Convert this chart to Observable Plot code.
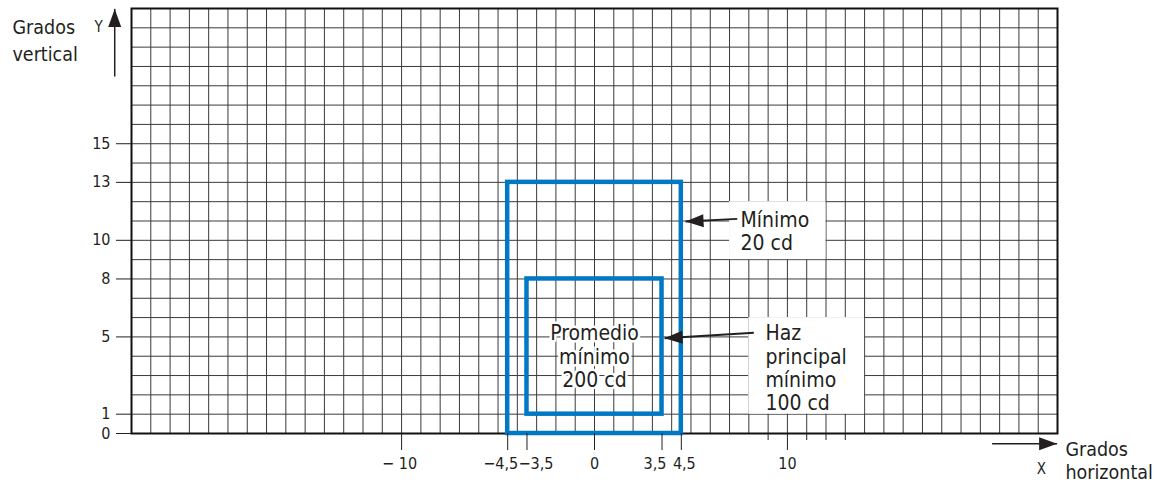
<!DOCTYPE html>
<html><head><meta charset="utf-8">
<script src="https://cdn.jsdelivr.net/npm/d3@7"></script>
<script src="https://cdn.jsdelivr.net/npm/@observablehq/plot@0.6"></script>
<style>body{margin:0;background:#fff}</style>
</head><body><div id="chart"></div>
<script>
// ---- data ----
const xGrid = d3.range(-24, 25);
const yGrid = d3.range(0, 23);
const xTicks = [-10, -4.5, -3.5, 0, 3.5, 4.5, 10];
const xTickLabels = ["− 10", "−4,5", "−3,5", "0", "3,5", "4,5", "10"];
const xMinorTicks = [9, 11, 12, 13];
const yTicks = [0, 1, 5, 8, 10, 13, 15];
const yTickLabels = ["0", "1", "5", "8", "10", "13", "15"];

// beam zones (degrees)
const zoneNames = ["Mínimo 20 cd", "Haz principal mínimo 100 cd"];
const zoneX1 = [-4.5, -3.5];
const zoneX2 = [4.5, 3.5];
const zoneY1 = [0, 1];
const zoneY2 = [13, 8];

// annotation boxes (degrees)
const boxX1 = [7, 8];
const boxX2 = [12, 14];
const boxY1 = [9, 1];
const boxY2 = [12, 6];

// annotation texts (degrees)
const noteTexts = ["Mínimo\n20 cd", "Haz\nprincipal\nmínimo\n100 cd", "Promedio\nmínimo\n200 cd"];
const noteX = [7.57, 8.86, 0];
const noteY = [11.54, 5.68, 5.68];

// pointer arrows (degrees): tail -> tip
const arrowX1 = [7.40, 8.26];
const arrowY1 = [11.11, 5.21];
const arrowX2 = [4.72, 3.63];
const arrowY2 = [10.97, 4.93];

// axis direction arrows (degrees)
const axisArrowX1 = [-24.87, 20.61];
const axisArrowY1 = [18.48, -0.53];
const axisArrowX2 = [-24.87, 23.98];
const axisArrowY2 = [21.98, -0.53];

// axis titles
const axisTitles = ["Grados\nvertical", "Grados\nhorizontal"];
const axisTitleX = [-30.17, 24.41];
const axisTitleY = [21.66, -0.3];
const axisLetters = ["Y", "X"];
const axisLetterX = [-25.71, 23.17];
const axisLetterY = [21.35, -1.55];

// ---- styles ----
const FONT = '"Liberation Sans Narrow","Arial Narrow","DejaVu Sans Condensed","DejaVu Sans",sans-serif';
const BLUE = "#0078c4";
const INK = "#231f20";
const GRID = "#3a3a3a";
const xLabelShift = [-2, -7, 9, 0, -7, 3, 0];
const titleLineHeights = [1.38, 1.2];

const zones = zoneNames.map((n, i) => ({n, x1: zoneX1[i], x2: zoneX2[i], y1: zoneY1[i], y2: zoneY2[i]}));
const boxes = boxX1.map((d, i) => ({x1: d, x2: boxX2[i], y1: boxY1[i], y2: boxY2[i]}));
const notes = noteTexts.map((t, i) => ({t, x: noteX[i], y: noteY[i]}));
const arrows = arrowX1.map((d, i) => ({x1: d, y1: arrowY1[i], x2: arrowX2[i], y2: arrowY2[i]}));
const axisArrows = axisArrowX1.map((d, i) => ({x1: d, y1: axisArrowY1[i], x2: axisArrowX2[i], y2: axisArrowY2[i]}));

// filled, elongated arrow head, tip at origin pointing left
const head = {draw(ctx) { ctx.moveTo(0, 0); ctx.lineTo(18, -6.5); ctx.lineTo(18, 6.5); ctx.closePath(); }};
const headAngles = [-3, -3.4];
const axisHeadAngles = [90, 180];

const xLabelMarks = xTicks.map((t, i) => Plot.text([t], {
  x: (d) => d, text: () => xTickLabels[i], frameAnchor: "bottom", lineAnchor: "top",
  dy: 24, dx: xLabelShift[i], fontSize: 16, fill: INK
}));

const titleMarks = axisTitles.map((t, i) => Plot.text([{t, x: axisTitleX[i], y: axisTitleY[i]}], {
  x: "x", y: "y", text: "t", fontSize: 19.5, lineHeight: titleLineHeights[i], lineAnchor: "top",
  textAnchor: "start", fill: INK
}));

const chart = Plot.plot({
  width: 1165, height: 486,
  marginLeft: 131, marginRight: 108, marginTop: 8, marginBottom: 53,
  x: {domain: [-24, 24], axis: null},
  y: {domain: [0, 22], axis: null},
  style: {fontFamily: FONT, color: INK, background: "white", overflow: "visible"},
  marks: [
    Plot.ruleX(xGrid, {stroke: GRID, strokeWidth: 1}),
    Plot.ruleY(yGrid, {stroke: GRID, strokeWidth: 1}),
    Plot.rect(boxes, {x1: "x1", x2: "x2", y1: "y1", y2: "y2", fill: "white"}),
    Plot.frame({stroke: "#111", strokeWidth: 2}),
    Plot.rect(zones, {x1: "x1", x2: "x2", y1: "y1", y2: "y2", fill: "none", stroke: BLUE, strokeWidth: 4.5}),
    Plot.axisX(xTicks, {tickSize: 17, stroke: INK, tickFormat: () => "", label: null}),
    Plot.axisX(xMinorTicks, {tickSize: 7, stroke: INK, tickFormat: () => "", label: null}),
    Plot.axisY(yTicks, {tickSize: 15, stroke: INK, tickFormat: () => "", label: null}),
    ...xLabelMarks,
    Plot.text(yTicks, {y: (d) => d, text: (d, i) => yTickLabels[i], frameAnchor: "left", textAnchor: "end",
      dx: -21, fontSize: 16, fill: INK}),
    Plot.text(notes.slice(0, 2), {x: "x", y: "y", text: "t", fontSize: 21, lineHeight: 1.11,
      lineAnchor: "top", textAnchor: "start", fill: INK}),
    Plot.text(notes.slice(2), {x: "x", y: "y", text: "t", fontSize: 21, lineHeight: 1.11, lineAnchor: "top",
      fill: INK, stroke: "white", strokeWidth: 5, paintOrder: "stroke"}),
    Plot.link(arrows, {x1: "x1", y1: "y1", x2: "x2", y2: "y2", stroke: INK, strokeWidth: 2}),
    Plot.dot(arrows, {x: "x2", y: "y2", symbol: head, fill: INK, stroke: "none", rotate: (d, i) => headAngles[i]}),
    Plot.link(axisArrows, {x1: "x1", y1: "y1", x2: "x2", y2: "y2", stroke: INK, strokeWidth: 1.5}),
    Plot.dot(axisArrows, {x: "x2", y: "y2", symbol: head, fill: INK, stroke: "none", rotate: (d, i) => axisHeadAngles[i]}),
    ...titleMarks,
    Plot.text(axisLetters.map((t, i) => ({t, x: axisLetterX[i], y: axisLetterY[i]})),
      {x: "x", y: "y", text: "t", fontSize: 15, lineAnchor: "top", fill: INK})
  ]
});
document.getElementById("chart").appendChild(chart);
</script>
</body></html>
